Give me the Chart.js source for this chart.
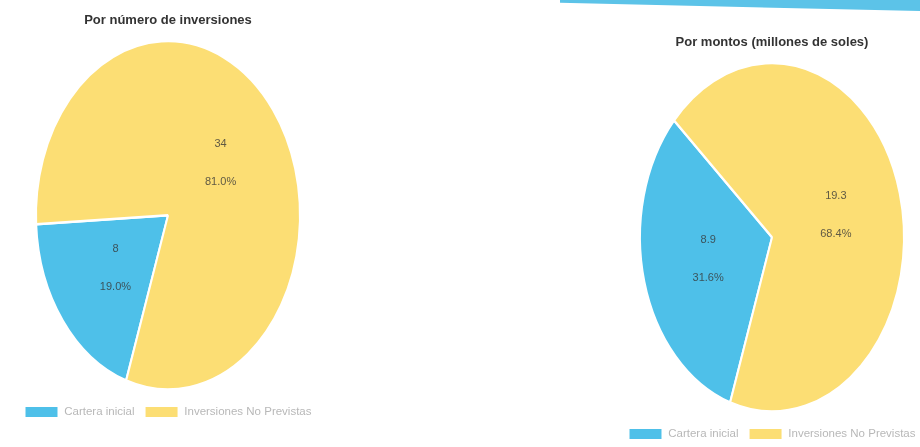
<!DOCTYPE html>
<html>
<head>
<meta charset="utf-8">
<script src="https://cdn.jsdelivr.net/npm/chart.js@4.4.1/dist/chart.umd.min.js"></script>
<style>
  html, body { margin: 0; padding: 0; background: #fff; width: 920px; height: 447px; overflow: hidden; position: relative; }
  .box { position: absolute; top: 0; height: 447px; }
  .stripe { position: absolute; left: 560px; top: 0; width: 360px; height: 11px; background: #5cc3e8; clip-path: polygon(0 0, 100% 0, 100% 100%, 0 25%); }
</style>
</head>
<body>
<div class="stripe"></div>
<div class="box" style="left:3px;width:330px"><canvas id="countChart"></canvas></div>
<div class="box" style="left:612px;top:22px;width:320px"><canvas id="amountChart"></canvas></div>
<script>
const labels = ['Cartera inicial', 'Inversiones No Previstas'];
const countValues = [8, 34];
const countPct = ['19.0%', '81.0%'];
const amountValues = [8.9, 19.3];
const amountPct = ['31.6%', '68.4%'];
const sliceColors = ['#4ec0e9', '#fcde74'];

const FONT = "'Liberation Sans', Arial, sans-serif";
const STRETCH = 1.32; // pie is photographed as an upright ellipse

// squash the arcs vertically around the pie centre
const ellipse = {
  id: 'ellipse',
  beforeDatasetsDraw(chart) {
    const m = chart.getDatasetMeta(0).data[0];
    const ctx = chart.ctx;
    ctx.save();
    ctx.translate(m.x, m.y);
    ctx.scale(1, STRETCH);
    ctx.translate(-m.x, -m.y);
  },
  afterDatasetsDraw(chart) {
    chart.ctx.restore();
  }
};

// value + percent inside each slice
const sliceLabels = {
  id: 'sliceLabels',
  afterDraw(chart, args, opts) {
    const ctx = chart.ctx;
    const meta = chart.getDatasetMeta(0);
    const vals = chart.data.datasets[0].data;
    ctx.save();
    ctx.font = '11px ' + FONT;
    ctx.fillStyle = 'rgba(55,55,55,0.8)';
    ctx.textAlign = 'center';
    ctx.textBaseline = 'middle';
    meta.data.forEach((arc, i) => {
      const p = arc.tooltipPosition();
      const y = arc.y + (p.y - arc.y) * STRETCH;
      ctx.fillText(String(vals[i]), p.x, y - 19);
      ctx.fillText(opts.pct[i], p.x, y + 19);
    });
    ctx.restore();
  }
};

function makePie(id, title, values, pct) {
  return new Chart(document.getElementById(id), {
    type: 'pie',
    data: {
      labels: labels,
      datasets: [{ data: values, backgroundColor: sliceColors, borderColor: '#fff', borderWidth: 2, radius: 132 }]
    },
    options: {
      responsive: true,
      maintainAspectRatio: false,
      animation: false,
      rotation: 198.5,
      layout: { padding: { bottom: 19 } },
      plugins: {
        title: { display: true, text: title, color: '#333', font: { family: FONT, size: 13, weight: 'bold' }, padding: { top: 13, bottom: 6 } },
        legend: {
          position: 'bottom',
          labels: { color: '#b8b8b8', font: { family: FONT, size: 11.5 }, boxWidth: 34, boxHeight: 12, padding: 10 }
        },
        tooltip: { enabled: false },
        sliceLabels: { pct: pct }
      }
    },
    plugins: [ellipse, sliceLabels]
  });
}

makePie('countChart', 'Por número de inversiones', countValues, countPct);
makePie('amountChart', 'Por montos (millones de soles)', amountValues, amountPct);
</script>
</body>
</html>
